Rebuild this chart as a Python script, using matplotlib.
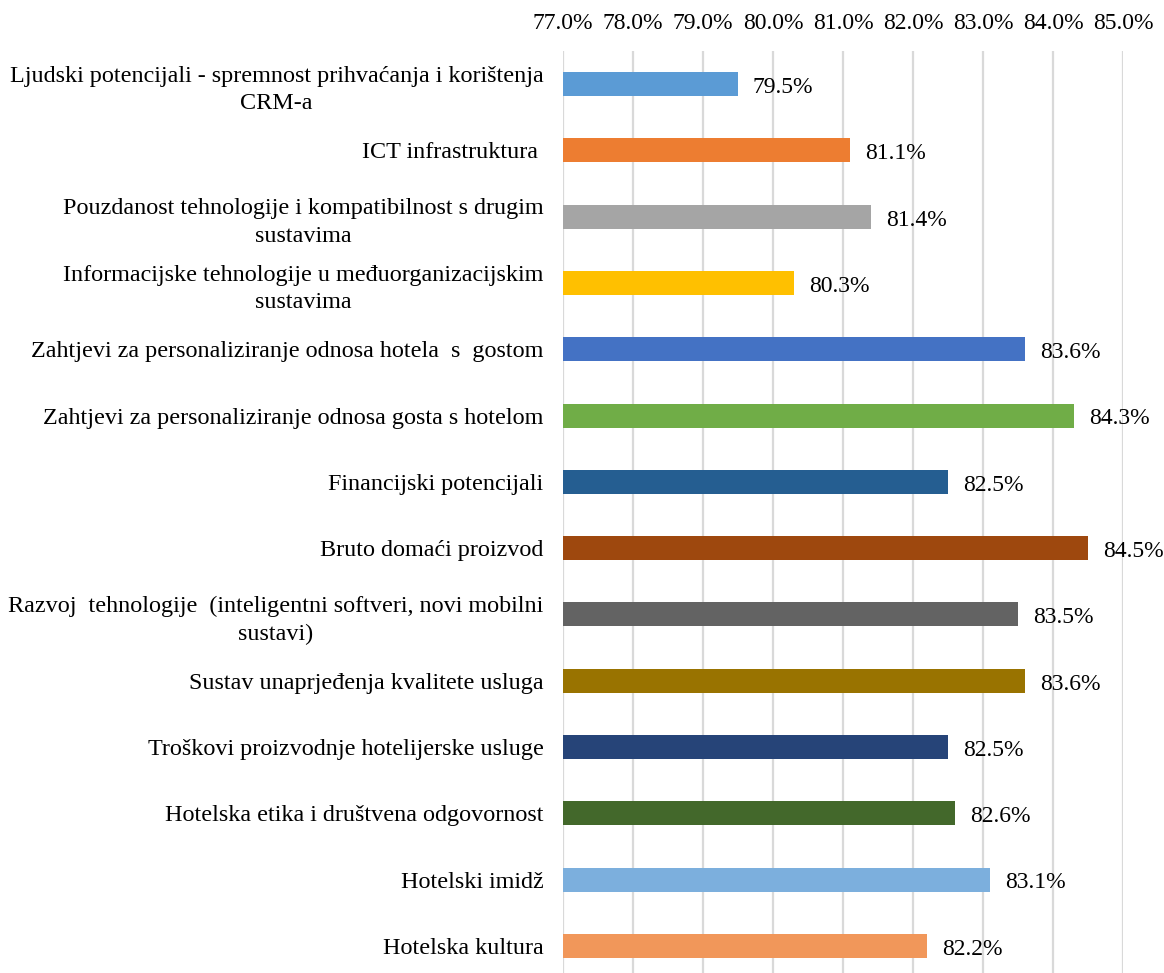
import matplotlib
matplotlib.use("Agg")
import matplotlib.pyplot as plt
import numpy as np

# factors and their shares
labels = [
    "Ljudski potencijali - spremnost prihvaćanja i korištenja\nCRM-a",
    "ICT infrastruktura ",
    "Pouzdanost tehnologije i kompatibilnost s drugim\nsustavima",
    "Informacijske tehnologije u međuorganizacijskim\nsustavima",
    "Zahtjevi za personaliziranje odnosa hotela  s  gostom",
    "Zahtjevi za personaliziranje odnosa gosta s hotelom",
    "Financijski potencijali",
    "Bruto domaći proizvod",
    "Razvoj  tehnologije  (inteligentni softveri, novi mobilni\nsustavi)",
    "Sustav unaprjeđenja kvalitete usluga",
    "Troškovi proizvodnje hotelijerske usluge",
    "Hotelska etika i društvena odgovornost",
    "Hotelski imidž",
    "Hotelska kultura",
]
values = [79.5, 81.1, 81.4, 80.3, 83.6, 84.3, 82.5, 84.5, 83.5, 83.6, 82.5, 82.6, 83.1, 82.2]
colors = ["#5B9BD5", "#ED7D31", "#A5A5A5", "#FFC000", "#4472C4", "#70AD47", "#255E91",
          "#9E480E", "#636363", "#997300", "#264478", "#43682B", "#7CAFDD", "#F1975A"]
x_ticks = [77, 78, 79, 80, 81, 82, 83, 84, 85]

plt.rcParams["font.family"] = ["Liberation Serif", "DejaVu Serif"]
plt.rcParams["font.size"] = 17

fig = plt.figure(figsize=(11.64, 9.73), dpi=100)
ax = fig.add_axes([563 / 1164, 1 - 979 / 973, 560 / 1164, 928 / 973])

y = np.arange(len(labels))
ax.barh(y, values, height=0.36, color=colors, zorder=3)
for yi, v in zip(y, values):
    ax.text(v + 0.21, yi + 0.05, f"{v:.1f}%", va="center", ha="left", fontsize=17, zorder=4)

ax.set_xlim(77, 85)
ax.set_ylim(len(labels) - 0.5, -0.5)
ax.set_xticks(x_ticks)
ax.set_xticklabels([f"{t:.1f}%" for t in x_ticks])
ax.xaxis.tick_top()
ax.tick_params(axis="x", length=0, pad=12)
ax.set_yticks(y)
ax.set_yticklabels(labels, linespacing=1.42, fontsize=17.4)
ax.tick_params(axis="y", length=0, pad=14)
for t in ax.get_yticklabels():
    t.set_multialignment("center")

ax.grid(axis="x", color="#D9D9D9", linewidth=1.6, zorder=0)
for s in ax.spines.values():
    s.set_visible(False)

fig.savefig("out.png", dpi=100)
